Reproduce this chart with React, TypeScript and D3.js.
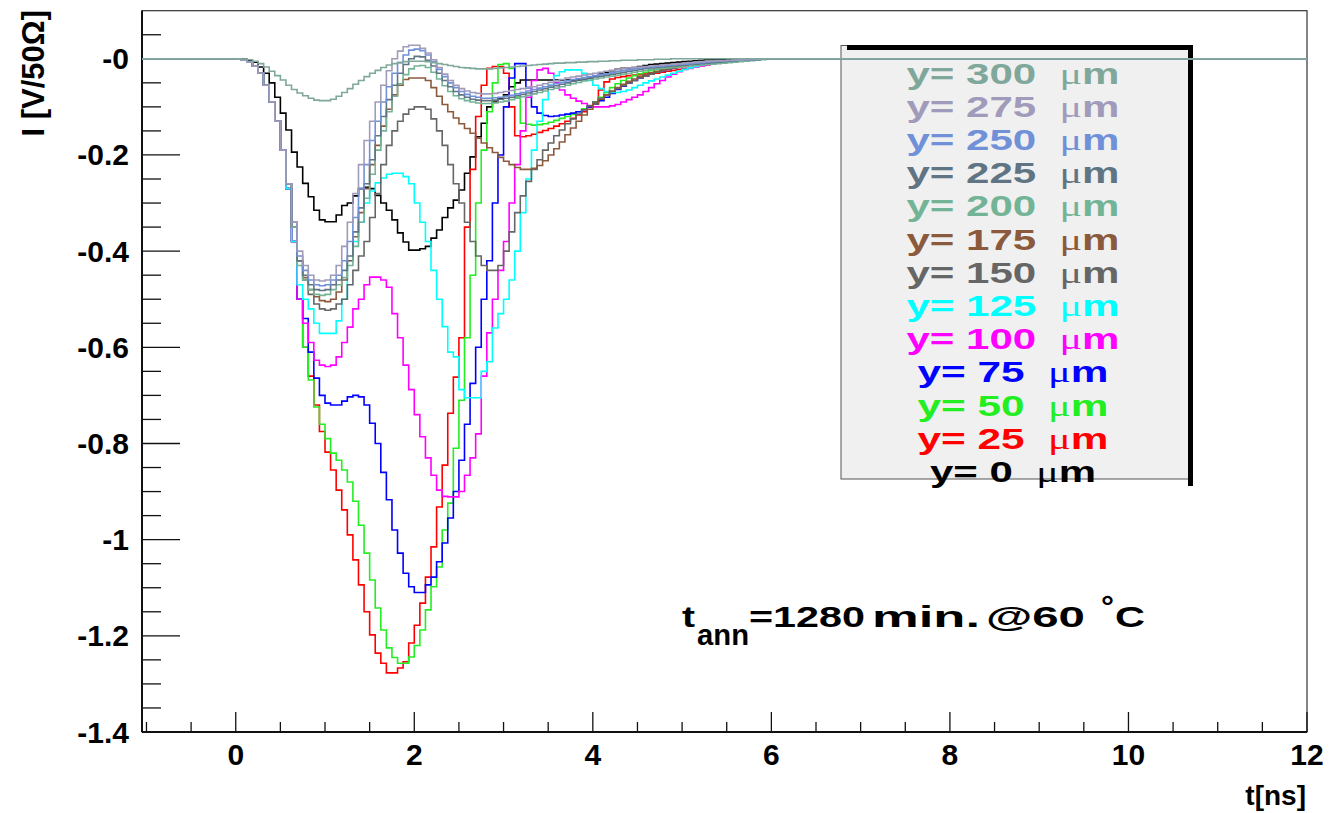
import React, { useRef, useEffect } from "react";
import * as d3 from "d3";

// histogram bins: first bin starts at t = 0 ns, values in V/50 Ohm
const binWidth = 0.0625;

const positions = [0, 25, 50, 75, 100, 125, 150, 175, 200, 225, 250, 275, 300];
const colours = ["#000000", "#ff0000", "#22ee22", "#0000ff", "#ff00ff", "#00ffff", "#666666",
    "#8b5a3c", "#74b496", "#5f7584", "#7090d8", "#a09bba", "#7fa89b"];

const y0um = [
    0, -0.001, -0.003, -0.007, -0.017, -0.03, -0.05, -0.08, -0.113, -0.148,
    -0.194, -0.225, -0.259, -0.287, -0.315, -0.335, -0.339, -0.339, -0.325, -0.305,
    -0.3, -0.285, -0.27, -0.267, -0.27, -0.284, -0.3, -0.315, -0.335, -0.362,
    -0.381, -0.398, -0.398, -0.395, -0.39, -0.373, -0.356, -0.33, -0.31, -0.294,
    -0.273, -0.238, -0.204, -0.162, -0.134, -0.1, -0.09, -0.082, -0.075, -0.058,
    -0.05, -0.044, -0.044, -0.044, -0.044, -0.044, -0.044, -0.044, -0.044, -0.044,
    -0.044, -0.044, -0.044, -0.04, -0.036, -0.032, -0.028, -0.025, -0.022, -0.02,
    -0.019, -0.018, -0.016, -0.014, -0.012, -0.011, -0.01, -0.009, -0.008, -0.007,
    -0.006, -0.005, -0.004, -0.003, -0.002, -0.002, -0.001, -0.001, -0.001, -0.001
];
const y25um = [
    -0.001, -0.003, -0.007, -0.015, -0.03, -0.055, -0.09, -0.13, -0.19, -0.27,
    -0.38, -0.5, -0.6, -0.66, -0.72, -0.775, -0.818, -0.855, -0.897, -0.938,
    -0.99, -1.042, -1.094, -1.15, -1.198, -1.236, -1.257, -1.277, -1.277, -1.267,
    -1.254, -1.215, -1.178, -1.132, -1.078, -1.015, -0.932, -0.845, -0.737, -0.662,
    -0.58, -0.35, -0.23, -0.12, -0.055, -0.02, -0.016, -0.016, -0.03, -0.1,
    -0.16, -0.162, -0.16, -0.157, -0.153, -0.149, -0.145, -0.14, -0.135, -0.13,
    -0.124, -0.117, -0.11, -0.1, -0.09, -0.065, -0.048, -0.042, -0.039, -0.037,
    -0.035, -0.034, -0.033, -0.032, -0.031, -0.03, -0.028, -0.026, -0.024, -0.022,
    -0.02, -0.018, -0.016, -0.014, -0.012, -0.01, -0.008, -0.007, -0.006, -0.005,
    -0.004, -0.003, -0.002, -0.002, -0.001, -0.001
];
const y50um = [
    -0.001, -0.003, -0.007, -0.015, -0.03, -0.055, -0.09, -0.13, -0.19, -0.27,
    -0.38, -0.5, -0.6, -0.668, -0.724, -0.76, -0.79, -0.82, -0.835, -0.855,
    -0.88, -0.92, -0.97, -1.028, -1.084, -1.142, -1.188, -1.225, -1.245, -1.257,
    -1.257, -1.244, -1.22, -1.188, -1.146, -1.098, -1.057, -0.98, -0.924, -0.81,
    -0.71, -0.58, -0.45, -0.3, -0.19, -0.11, -0.05, -0.012, -0.01, -0.02,
    -0.08, -0.134, -0.136, -0.138, -0.137, -0.135, -0.132, -0.128, -0.124, -0.12,
    -0.116, -0.11, -0.104, -0.098, -0.09, -0.08, -0.07, -0.06, -0.052, -0.045,
    -0.04, -0.035, -0.031, -0.028, -0.025, -0.022, -0.02, -0.018, -0.016, -0.014,
    -0.012, -0.011, -0.01, -0.009, -0.008, -0.007, -0.006, -0.005, -0.004, -0.003,
    -0.003, -0.002, -0.002, -0.001, -0.001, 0
];
const y75um = [
    -0.001, -0.003, -0.007, -0.015, -0.03, -0.055, -0.09, -0.13, -0.19, -0.27,
    -0.38, -0.5, -0.54, -0.61, -0.664, -0.7, -0.716, -0.72, -0.72, -0.712,
    -0.703, -0.7, -0.703, -0.72, -0.758, -0.8, -0.86, -0.917, -0.98, -1.028,
    -1.07, -1.098, -1.11, -1.11, -1.094, -1.078, -1.046, -1.007, -0.955, -0.9,
    -0.835, -0.76, -0.675, -0.6, -0.5, -0.42, -0.3, -0.2, -0.1, -0.04,
    -0.01, -0.01, -0.06, -0.1, -0.113, -0.118, -0.12, -0.119, -0.117, -0.115,
    -0.113, -0.11, -0.106, -0.1, -0.094, -0.087, -0.08, -0.072, -0.064, -0.057,
    -0.05, -0.045, -0.04, -0.036, -0.032, -0.028, -0.025, -0.022, -0.019, -0.016,
    -0.014, -0.012, -0.01, -0.009, -0.008, -0.007, -0.006, -0.005, -0.004, -0.003,
    -0.003, -0.002, -0.002, -0.001, -0.001, 0
];
const y100um = [
    -0.001, -0.003, -0.007, -0.015, -0.03, -0.055, -0.09, -0.13, -0.19, -0.27,
    -0.38, -0.5, -0.55, -0.59, -0.627, -0.637, -0.64, -0.637, -0.62, -0.59,
    -0.558, -0.52, -0.5, -0.47, -0.454, -0.454, -0.46, -0.475, -0.53, -0.58,
    -0.637, -0.688, -0.74, -0.786, -0.83, -0.866, -0.897, -0.91, -0.911, -0.911,
    -0.9, -0.866, -0.83, -0.78, -0.66, -0.57, -0.5, -0.44, -0.38, -0.3,
    -0.22, -0.15, -0.08, -0.045, -0.023, -0.02, -0.03, -0.05, -0.065, -0.075,
    -0.082, -0.088, -0.093, -0.097, -0.1, -0.1, -0.1, -0.098, -0.095, -0.09,
    -0.085, -0.08, -0.075, -0.068, -0.06, -0.052, -0.045, -0.038, -0.032, -0.027,
    -0.022, -0.02, -0.017, -0.015, -0.013, -0.011, -0.009, -0.008, -0.007, -0.006,
    -0.005, -0.004, -0.003, -0.002, -0.001, -0.001
];
const y125um = [
    -0.001, -0.003, -0.007, -0.015, -0.03, -0.055, -0.09, -0.13, -0.19, -0.27,
    -0.38, -0.47, -0.5, -0.52, -0.55, -0.571, -0.571, -0.571, -0.545, -0.5,
    -0.42, -0.38, -0.34, -0.3, -0.275, -0.258, -0.248, -0.24, -0.238, -0.238,
    -0.245, -0.26, -0.3, -0.34, -0.38, -0.44, -0.5, -0.557, -0.61, -0.62,
    -0.688, -0.705, -0.705, -0.705, -0.65, -0.63, -0.56, -0.53, -0.5, -0.46,
    -0.4, -0.32, -0.25, -0.19, -0.13, -0.085, -0.055, -0.035, -0.027, -0.023,
    -0.023, -0.023, -0.03, -0.045, -0.055, -0.062, -0.068, -0.07, -0.07, -0.068,
    -0.065, -0.06, -0.055, -0.05, -0.046, -0.042, -0.038, -0.034, -0.03, -0.026,
    -0.022, -0.019, -0.016, -0.013, -0.011, -0.009, -0.007, -0.006, -0.005, -0.004,
    -0.003, -0.002, -0.002, -0.001, -0.001, 0
];
const y150um = [
    -0.001, -0.003, -0.007, -0.015, -0.03, -0.055, -0.09, -0.13, -0.19, -0.26,
    -0.35, -0.42, -0.46, -0.49, -0.51, -0.52, -0.523, -0.52, -0.51, -0.5,
    -0.47, -0.44, -0.41, -0.38, -0.33, -0.28, -0.22, -0.18, -0.15, -0.13,
    -0.115, -0.105, -0.1, -0.1, -0.105, -0.125, -0.15, -0.18, -0.22, -0.26,
    -0.3, -0.34, -0.38, -0.41, -0.43, -0.44, -0.44, -0.43, -0.4, -0.36,
    -0.32, -0.285, -0.255, -0.23, -0.21, -0.19, -0.175, -0.16, -0.148, -0.135,
    -0.125, -0.115, -0.106, -0.098, -0.09, -0.082, -0.075, -0.068, -0.062, -0.056,
    -0.05, -0.045, -0.04, -0.036, -0.032, -0.028, -0.025, -0.022, -0.019, -0.016,
    -0.014, -0.012, -0.01, -0.009, -0.008, -0.007, -0.006, -0.005, -0.004, -0.003,
    -0.003, -0.002, -0.002, -0.001, -0.001, 0
];
const y175um = [
    -0.001, -0.003, -0.007, -0.015, -0.03, -0.055, -0.09, -0.13, -0.19, -0.26,
    -0.35, -0.42, -0.455, -0.48, -0.495, -0.503, -0.505, -0.5, -0.485, -0.46,
    -0.42, -0.37, -0.32, -0.27, -0.22, -0.18, -0.14, -0.105, -0.075, -0.055,
    -0.043, -0.04, -0.04, -0.04, -0.045, -0.06, -0.078, -0.095, -0.11, -0.123,
    -0.135, -0.145, -0.155, -0.165, -0.175, -0.185, -0.195, -0.205, -0.213, -0.22,
    -0.226, -0.23, -0.23, -0.228, -0.222, -0.212, -0.2, -0.187, -0.173, -0.158,
    -0.144, -0.13, -0.117, -0.105, -0.094, -0.084, -0.075, -0.067, -0.06, -0.053,
    -0.047, -0.042, -0.037, -0.033, -0.029, -0.026, -0.023, -0.02, -0.018, -0.016,
    -0.014, -0.012, -0.01, -0.009, -0.008, -0.007, -0.006, -0.005, -0.004, -0.003,
    -0.002, -0.002, -0.001, -0.001, 0, 0
];
const y200um = [
    -0.001, -0.003, -0.007, -0.015, -0.03, -0.055, -0.09, -0.13, -0.19, -0.26,
    -0.35, -0.43, -0.46, -0.48, -0.49, -0.492, -0.49, -0.48, -0.47, -0.455,
    -0.43, -0.39, -0.34, -0.29, -0.24, -0.19, -0.15, -0.11, -0.078, -0.052,
    -0.033, -0.021, -0.015, -0.014, -0.018, -0.028, -0.042, -0.056, -0.068, -0.077,
    -0.083, -0.087, -0.09, -0.092, -0.093, -0.093, -0.092, -0.09, -0.088, -0.085,
    -0.082, -0.079, -0.076, -0.073, -0.07, -0.067, -0.064, -0.061, -0.058, -0.055,
    -0.052, -0.049, -0.046, -0.044, -0.042, -0.04, -0.038, -0.036, -0.034, -0.032,
    -0.03, -0.028, -0.026, -0.024, -0.022, -0.021, -0.02, -0.019, -0.018, -0.017,
    -0.016, -0.015, -0.014, -0.013, -0.012, -0.011, -0.01, -0.009, -0.008, -0.007,
    -0.006, -0.005, -0.004, -0.003, -0.002, -0.001
];
const y225um = [
    -0.001, -0.003, -0.007, -0.015, -0.03, -0.055, -0.09, -0.13, -0.19, -0.26,
    -0.34, -0.42, -0.45, -0.47, -0.48, -0.482, -0.48, -0.47, -0.46, -0.44,
    -0.41, -0.36, -0.31, -0.26, -0.21, -0.16, -0.12, -0.085, -0.055, -0.03,
    -0.012, 0, 0.005, 0.004, -0.003, -0.015, -0.03, -0.045, -0.058, -0.068,
    -0.075, -0.08, -0.084, -0.086, -0.087, -0.087, -0.086, -0.084, -0.082, -0.08,
    -0.077, -0.074, -0.071, -0.068, -0.065, -0.062, -0.059, -0.056, -0.053, -0.05,
    -0.047, -0.044, -0.042, -0.04, -0.038, -0.036, -0.034, -0.032, -0.03, -0.028,
    -0.026, -0.024, -0.022, -0.02, -0.019, -0.018, -0.017, -0.016, -0.015, -0.014,
    -0.013, -0.012, -0.011, -0.01, -0.009, -0.008, -0.007, -0.006, -0.005, -0.004,
    -0.003, -0.003, -0.002, -0.002, -0.001, -0.001
];
const y250um = [
    -0.001, -0.003, -0.007, -0.015, -0.03, -0.055, -0.09, -0.13, -0.19, -0.26,
    -0.34, -0.41, -0.44, -0.46, -0.47, -0.472, -0.47, -0.46, -0.45, -0.42,
    -0.38, -0.33, -0.27, -0.22, -0.17, -0.13, -0.09, -0.058, -0.03, -0.008,
    0.008, 0.018, 0.02, 0.017, 0.008, -0.006, -0.022, -0.037, -0.05, -0.06,
    -0.068, -0.074, -0.078, -0.08, -0.082, -0.082, -0.081, -0.08, -0.078, -0.076,
    -0.073, -0.07, -0.067, -0.064, -0.061, -0.058, -0.055, -0.052, -0.049, -0.046,
    -0.043, -0.041, -0.039, -0.037, -0.035, -0.033, -0.031, -0.029, -0.027, -0.025,
    -0.023, -0.021, -0.019, -0.018, -0.017, -0.016, -0.015, -0.014, -0.013, -0.012,
    -0.011, -0.01, -0.009, -0.008, -0.007, -0.006, -0.005, -0.004, -0.004, -0.003,
    -0.003, -0.002, -0.002, -0.001, -0.001, 0
];
const y275um = [
    -0.001, -0.003, -0.007, -0.015, -0.03, -0.055, -0.09, -0.13, -0.19, -0.26,
    -0.34, -0.4, -0.43, -0.45, -0.46, -0.462, -0.46, -0.45, -0.43, -0.39,
    -0.34, -0.28, -0.22, -0.17, -0.13, -0.09, -0.055, -0.025, 0, 0.016,
    0.025, 0.028, 0.028, 0.022, 0.012, -0.002, -0.018, -0.032, -0.045, -0.055,
    -0.062, -0.067, -0.07, -0.072, -0.073, -0.073, -0.072, -0.07, -0.068, -0.066,
    -0.064, -0.062, -0.06, -0.058, -0.055, -0.052, -0.049, -0.046, -0.043, -0.04,
    -0.038, -0.036, -0.034, -0.032, -0.03, -0.028, -0.026, -0.024, -0.022, -0.02,
    -0.019, -0.018, -0.017, -0.016, -0.015, -0.014, -0.013, -0.012, -0.011, -0.01,
    -0.009, -0.008, -0.007, -0.006, -0.005, -0.005, -0.004, -0.004, -0.003, -0.003,
    -0.002, -0.002, -0.001, -0.001, 0, 0
];
const y300um = [
    0, -0.001, -0.002, -0.005, -0.01, -0.017, -0.026, -0.035, -0.044, -0.055,
    -0.064, -0.071, -0.077, -0.082, -0.086, -0.087, -0.087, -0.084, -0.078, -0.07,
    -0.062, -0.053, -0.045, -0.037, -0.03, -0.024, -0.018, -0.013, -0.01, -0.008,
    -0.006, -0.005, -0.005, -0.005, -0.006, -0.008, -0.01, -0.012, -0.014, -0.016,
    -0.018, -0.019, -0.02, -0.021, -0.021, -0.021, -0.02, -0.019, -0.018, -0.017,
    -0.016, -0.015, -0.014, -0.013, -0.012, -0.011, -0.01, -0.009, -0.009, -0.008,
    -0.008, -0.007, -0.007, -0.006, -0.006, -0.005, -0.005, -0.004, -0.004, -0.003,
    -0.003, -0.003, -0.002, -0.002, -0.002, -0.001, -0.001, -0.001, 0, 0
];

const seriesValues = [y0um, y25um, y50um, y75um, y100um, y125um, y150um, y175um,
    y200um, y225um, y250um, y275um, y300um];

const xMajorTicks = [0, 2, 4, 6, 8, 10, 12];
const yMajorTicks = [0, -0.2, -0.4, -0.6, -0.8, -1, -1.2, -1.4];
const yTickLabels = ["-0", "-0.2", "-0.4", "-0.6", "-0.8", "-1", "-1.2", "-1.4"];

const W = 1329;
const H = 813;
const frame = { left: 142, right: 1307, top: 10.7, bottom: 732 };
const font = "'Liberation Sans', Arial, Helvetica, sans-serif";

const App = () => {
    const svgRef = useRef(null);

    useEffect(() => {
        if (!svgRef.current) return;
        const svg = d3.select(svgRef.current);
        svg.selectAll("*").remove();

        const x = d3.scaleLinear().domain([-1.05, 12]).range([frame.left, frame.right]);
        const y = d3.scaleLinear().domain([-1.4, 0.1]).range([frame.bottom, frame.top]);

        svg.append("rect").attr("width", W).attr("height", H).attr("fill", "white");

        svg.append("defs").append("clipPath").attr("id", "frameClip")
            .append("rect")
            .attr("x", frame.left).attr("y", frame.top)
            .attr("width", frame.right - frame.left).attr("height", frame.bottom - frame.top);

        // frame
        svg.append("rect")
            .attr("x", frame.left).attr("y", frame.top)
            .attr("width", frame.right - frame.left).attr("height", frame.bottom - frame.top)
            .attr("fill", "none").attr("stroke", "#333").attr("stroke-width", 1.2);

        // legend box (drawn below the curves, as in the picture)
        const lg = { left: 841, top: 45.5, right: 1189, bottom: 479 };
        svg.append("rect")
            .attr("x", lg.left).attr("y", lg.top)
            .attr("width", lg.right - lg.left).attr("height", lg.bottom - lg.top)
            .attr("fill", "#f0f0f0").attr("stroke", "#555").attr("stroke-width", 1);
        svg.append("rect").attr("x", 847).attr("y", 45).attr("width", lg.right + 4 - 847).attr("height", 5).attr("fill", "#000");
        svg.append("rect").attr("x", lg.right - 1).attr("y", 45).attr("width", 5).attr("height", 486 - 45).attr("fill", "#000");

        const legendRows = positions.map((p, i) => ({ p, colour: colours[i] })).reverse();
        legendRows.forEach((row, k) => {
            const digits = String(row.p).length;
            const len = digits === 3 ? 213 : digits === 2 ? 191 : 166;
            const t = svg.append("text")
                .attr("x", 1013 - len / 2)
                .attr("y", 83.5 + k * 33.2)
                .attr("textLength", len)
                .attr("lengthAdjust", "spacingAndGlyphs")
                .style("font-family", font)
                .style("font-weight", "bold")
                .style("font-size", "30px")
                .style("fill", row.colour);
            t.append("tspan").text(`y= ${row.p}\u00a0\u00a0`);
            t.append("tspan").style("font-family", "'Liberation Serif', serif").style("font-weight", "normal").text("\u03bc");
            t.append("tspan").text("m");
        });

        // axes ticks (ROOT style, inside the frame)
        const axis = svg.append("g").attr("stroke", "#111").attr("stroke-width", 1.3);
        d3.range(-1, 12.001, 0.5).forEach(v => {
            const major = Math.abs(v / 2 - Math.round(v / 2)) < 1e-6;
            axis.append("line")
                .attr("x1", x(v)).attr("x2", x(v))
                .attr("y1", frame.bottom).attr("y2", frame.bottom - (major ? 20 : 10));
        });
        d3.range(0.05, -1.399, -0.05).forEach(v => {
            const major = Math.abs(v / 0.2 - Math.round(v / 0.2)) < 1e-6;
            axis.append("line")
                .attr("x1", frame.left).attr("x2", frame.left + (major ? 38 : 19))
                .attr("y1", y(v)).attr("y2", y(v));
        });
        axis.append("line").attr("x1", frame.left).attr("x2", frame.right)
            .attr("y1", frame.bottom).attr("y2", frame.bottom).attr("stroke-width", 2);
        axis.append("line").attr("x1", frame.left).attr("x2", frame.left)
            .attr("y1", frame.top).attr("y2", frame.bottom).attr("stroke-width", 2);

        const labelStyle = (sel) => sel
            .style("font-family", font).style("font-weight", "bold")
            .style("font-size", "30px").style("fill", "#000");

        yMajorTicks.forEach((v, i) => {
            svg.append("text")
                .attr("x", 129).attr("y", y(v) + 10.5)
                .attr("text-anchor", "end")
                .call(labelStyle)
                .text(yTickLabels[i]);
        });
        xMajorTicks.forEach(v => {
            svg.append("text")
                .attr("x", x(v)).attr("y", 765)
                .attr("text-anchor", "middle")
                .call(labelStyle)
                .text(String(v));
        });

        svg.append("text")
            .attr("x", 1306).attr("y", 805)
            .attr("text-anchor", "end")
            .call(labelStyle).style("font-size", "28px")
            .text("t[ns]");

        svg.append("text")
            .attr("transform", "translate(43.5,10) rotate(-90)")
            .attr("text-anchor", "end")
            .call(labelStyle).style("font-size", "31px")
            .text("I [V/50\u03a9]");

        // curves
        const line = d3.line()
            .x(d => x(d[0]))
            .y(d => y(d[1]))
            .curve(d3.curveStepAfter);

        const curves = svg.append("g").attr("clip-path", "url(#frameClip)");
        seriesValues.forEach((vals, s) => {
            const pts = [[-1.05, 0]];
            vals.forEach((v, i) => pts.push([i * binWidth, v]));
            pts.push([vals.length * binWidth, 0]);
            pts.push([12, 0]);
            curves.append("path")
                .datum(pts)
                .attr("fill", "none")
                .attr("stroke", colours[s])
                .attr("stroke-width", 1.6)
                .attr("d", line);
        });

        // annotation
        const ann = [
            { text: "t", x: 682, y: 627, len: 13 },
            { text: "ann", x: 697, y: 645, len: 52 },
            { text: "=1280", x: 749, y: 627, len: 116 },
            { text: "min.", x: 872, y: 627, len: 108 },
            { text: "@60", x: 986, y: 627, len: 99 },
            { text: "\u00b0", x: 1101, y: 617, len: 13 },
            { text: "C", x: 1115, y: 627, len: 30 },
        ];
        ann.forEach(a => {
            svg.append("text")
                .attr("x", a.x).attr("y", a.y)
                .attr("textLength", a.len)
                .attr("lengthAdjust", "spacingAndGlyphs")
                .call(labelStyle)
                .text(a.text);
        });
    }, []);

    return (
        <div style={{ position: "absolute", left: 0, top: 0 }}>
            <svg ref={svgRef} width={W} height={H} style={{ display: "block" }}></svg>
        </div>
    );
};

export default App;
